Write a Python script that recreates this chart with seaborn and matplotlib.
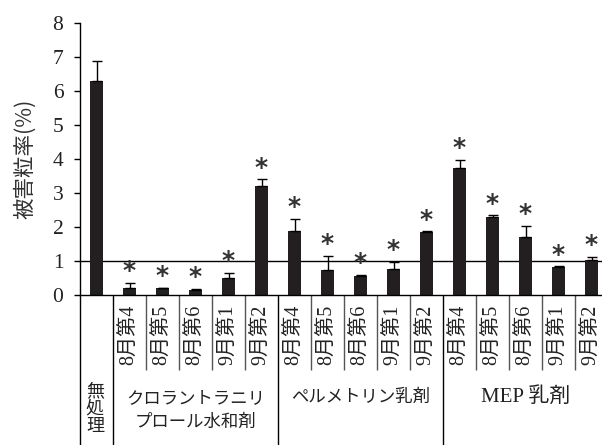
import matplotlib
matplotlib.use("Agg")
import matplotlib.pyplot as plt
import seaborn as sns
import pandas as pd

# ---- data ----
groups = ["無処理"] + ["クロラントラニリプロール水和剤"] * 5 + ["ペルメトリン乳剤"] * 5 + ["MEP 乳剤"] * 5
tick_labels = [""] + ["8月第4", "8月第5", "8月第6", "9月第1", "9月第2"] * 3
values = [6.29, 0.20, 0.20, 0.16, 0.49, 3.22, 1.88, 0.75, 0.55, 0.77, 1.84, 3.74, 2.29, 1.70, 0.82, 1.02]
errors = [0.59, 0.15, 0.02, 0.01, 0.15, 0.18, 0.36, 0.40, 0.05, 0.20, 0.03, 0.23, 0.05, 0.34, 0.02, 0.10]
significant = [False] + [True] * 15
group_names = ["無\n処\n理", "クロラントラニリ\nプロール水和剤", "ペルメトリン乳剤", "MEP 乳剤"]
y_ticks = [0, 1, 2, 3, 4, 5, 6, 7, 8]
ylabel = "被害粒率(%)"

sns.set_style("white")
plt.rcParams['font.family'] = ['Liberation Serif', 'Noto Sans CJK JP', 'DejaVu Sans']

keys = [f"{g}|{t}|{i}" for i, (g, t) in enumerate(zip(groups, tick_labels))]
df = pd.DataFrame({"key": keys, "value": values, "err": errors})

W, H = 602, 445
fig = plt.figure(figsize=(W / 100, H / 100), dpi=100)
ax_left, ax_bottom, ax_top = 80, 295, 23
slot = 33.0
ax = fig.add_axes([ax_left / W, (H - ax_bottom) / H, (W - ax_left) / W, (ax_bottom - ax_top) / H])

bar_color = "#231f20"
sns.barplot(data=df, x="key", y="value", order=keys, color=bar_color, saturation=1,
            width=0.38, errorbar=None, ax=ax, edgecolor="none")
xs = list(range(len(values)))
ax.errorbar(xs, values, yerr=[[0] * len(errors), errors], fmt="none", ecolor="black",
            elinewidth=1, capsize=3.5, capthick=1)

ax.set_xlim(-0.5, -0.5 + (W - ax_left) / slot)
ax.set_ylim(0, 8)
ax.set_yticks(y_ticks)
ax.set_yticklabels([str(v) for v in y_ticks], fontsize=15.5, family=['Liberation Serif'],
                   color="#222222")
ax.tick_params(axis="y", direction="out", length=4, width=1, pad=8, color="black", left=True)
ax.set_xticks(xs)
ax.set_xticklabels(tick_labels, rotation=90, fontsize=14.5, color="#222222",
                   family=['Liberation Serif', 'Noto Sans CJK JP'])
ax.tick_params(axis="x", length=0, pad=7)
ax.set_xlabel("")
ax.set_ylabel(ylabel, family=['Noto Sans CJK JP', 'DejaVu Sans'], fontsize=15.5, color="#333333",
              labelpad=12)

for s in ["top", "right"]:
    ax.spines[s].set_visible(False)
for s in ["left", "bottom"]:
    ax.spines[s].set_color("black")
    ax.spines[s].set_linewidth(1)

ax.axhline(1, color="black", lw=1, zorder=0.5)

# asterisks
for x, v, e, s in zip(xs, values, errors, significant):
    if s:
        ax.annotate("*", xy=(x, v + e), xytext=(0, 3.5), textcoords="offset points",
                    ha="center", va="baseline", fontsize=18, fontweight="bold",
                    color="#333333", family=['DejaVu Sans'])

# dividers under the axis
ax_h = ax_bottom - ax_top
trans = ax.get_xaxis_transform()
short = [i + 0.5 for i in range(len(values) - 1) if i + 0.5 not in (0.5, 5.5, 10.5)]
ax.vlines(short, 0, -75 / ax_h, transform=trans, clip_on=False, color="#555555", lw=1)
ax.vlines([-0.5, 0.5, 5.5, 10.5], 0, -150 / ax_h, transform=trans, clip_on=False,
          color="black", lw=1)

cjk = ['Noto Sans CJK JP', 'DejaVu Sans']
ax.text(-0.05, -(382 - ax_bottom) / ax_h, group_names[0], transform=trans, ha="center",
        va="top", fontsize=13, linespacing=0.98, family=cjk, color="#222222")
ax.text(3, -(410 - ax_bottom) / ax_h, group_names[1], transform=trans, ha="center",
        va="center", fontsize=12.5, linespacing=1.35, family=cjk, color="#222222",
        multialignment="center")
ax.text(8, -(397 - ax_bottom) / ax_h, group_names[2], transform=trans, ha="center",
        va="center", fontsize=12.5, family=cjk, color="#222222")
ax.text(13, -(397 - ax_bottom) / ax_h, group_names[3], transform=trans, ha="center",
        va="center", fontsize=15, family=['Liberation Serif', 'Noto Sans CJK JP'], color="#222222")

fig.savefig("out.png", dpi=100)
